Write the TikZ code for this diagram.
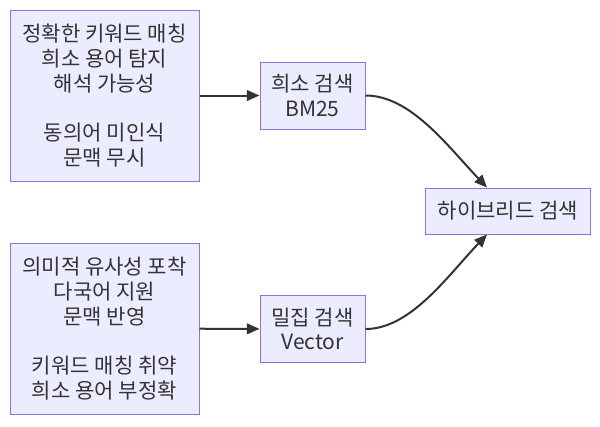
\documentclass[tikz,border=0pt]{standalone}
\usepackage{fontspec}
\setmainfont{Noto Sans CJK KR}
\usetikzlibrary{arrows.meta, positioning}
\definecolor{boxfill}{HTML}{ECECFF}
\definecolor{boxline}{HTML}{9370DB}
\definecolor{ink}{HTML}{333333}
\tikzset{
	box/.style = {rectangle, draw=boxline, fill=boxfill, line width=0.75pt, text=ink, align=center, font=\fontsize{15.8}{18.5}\selectfont, inner sep=0pt},
	notebox/.style = {box, minimum width=141.75pt, minimum height=128.25pt},
	searchbox/.style = {box, minimum width=78.75pt, minimum height=50.25pt},
	resultbox/.style = {box, minimum width=123.75pt, minimum height=34.5pt},
	line/.style = {draw=ink, line width=1.5pt, -{Triangle[length=9.5pt, width=8pt]}}
}

\begin{document}
\begin{tikzpicture}[x=0.75pt, y=-0.75pt]
		\useasboundingbox (0,0) rectangle (600,426);
		%검색 방식별 노드
		\node (sparsenote) [notebox] at (104.5,95.5) {정확한 키워드 매칭\\희소 용어 탐지\\해석 가능성\\[18.5pt]동의어 미인식\\문맥 무시};
		\node (densenote) [notebox] at (104.5,328.5) {의미적 유사성 포착\\다국어 지원\\문맥 반영\\[18.5pt]키워드 매칭 취약\\희소 용어 부정확};
		\node (sparse) [searchbox] at (312.5,95.5) {희소 검색\\BM25};
		\node (dense) [searchbox] at (312.5,329) {밀집 검색\\Vector};
		\node (hybrid) [resultbox] at (508,211) {하이브리드 검색};

		%연결선
		\path [line](sparsenote) -- (sparse);
		\path [line](densenote) -- (dense);
		\path [line](sparse.east) .. controls +(45,0) and +(-40,-42) .. ([xshift=-15.75pt]hybrid.north);
		\path [line](dense.east) .. controls +(45,0) and +(-40,42) .. ([xshift=-15.75pt]hybrid.south);
\end{tikzpicture}
\end{document}
